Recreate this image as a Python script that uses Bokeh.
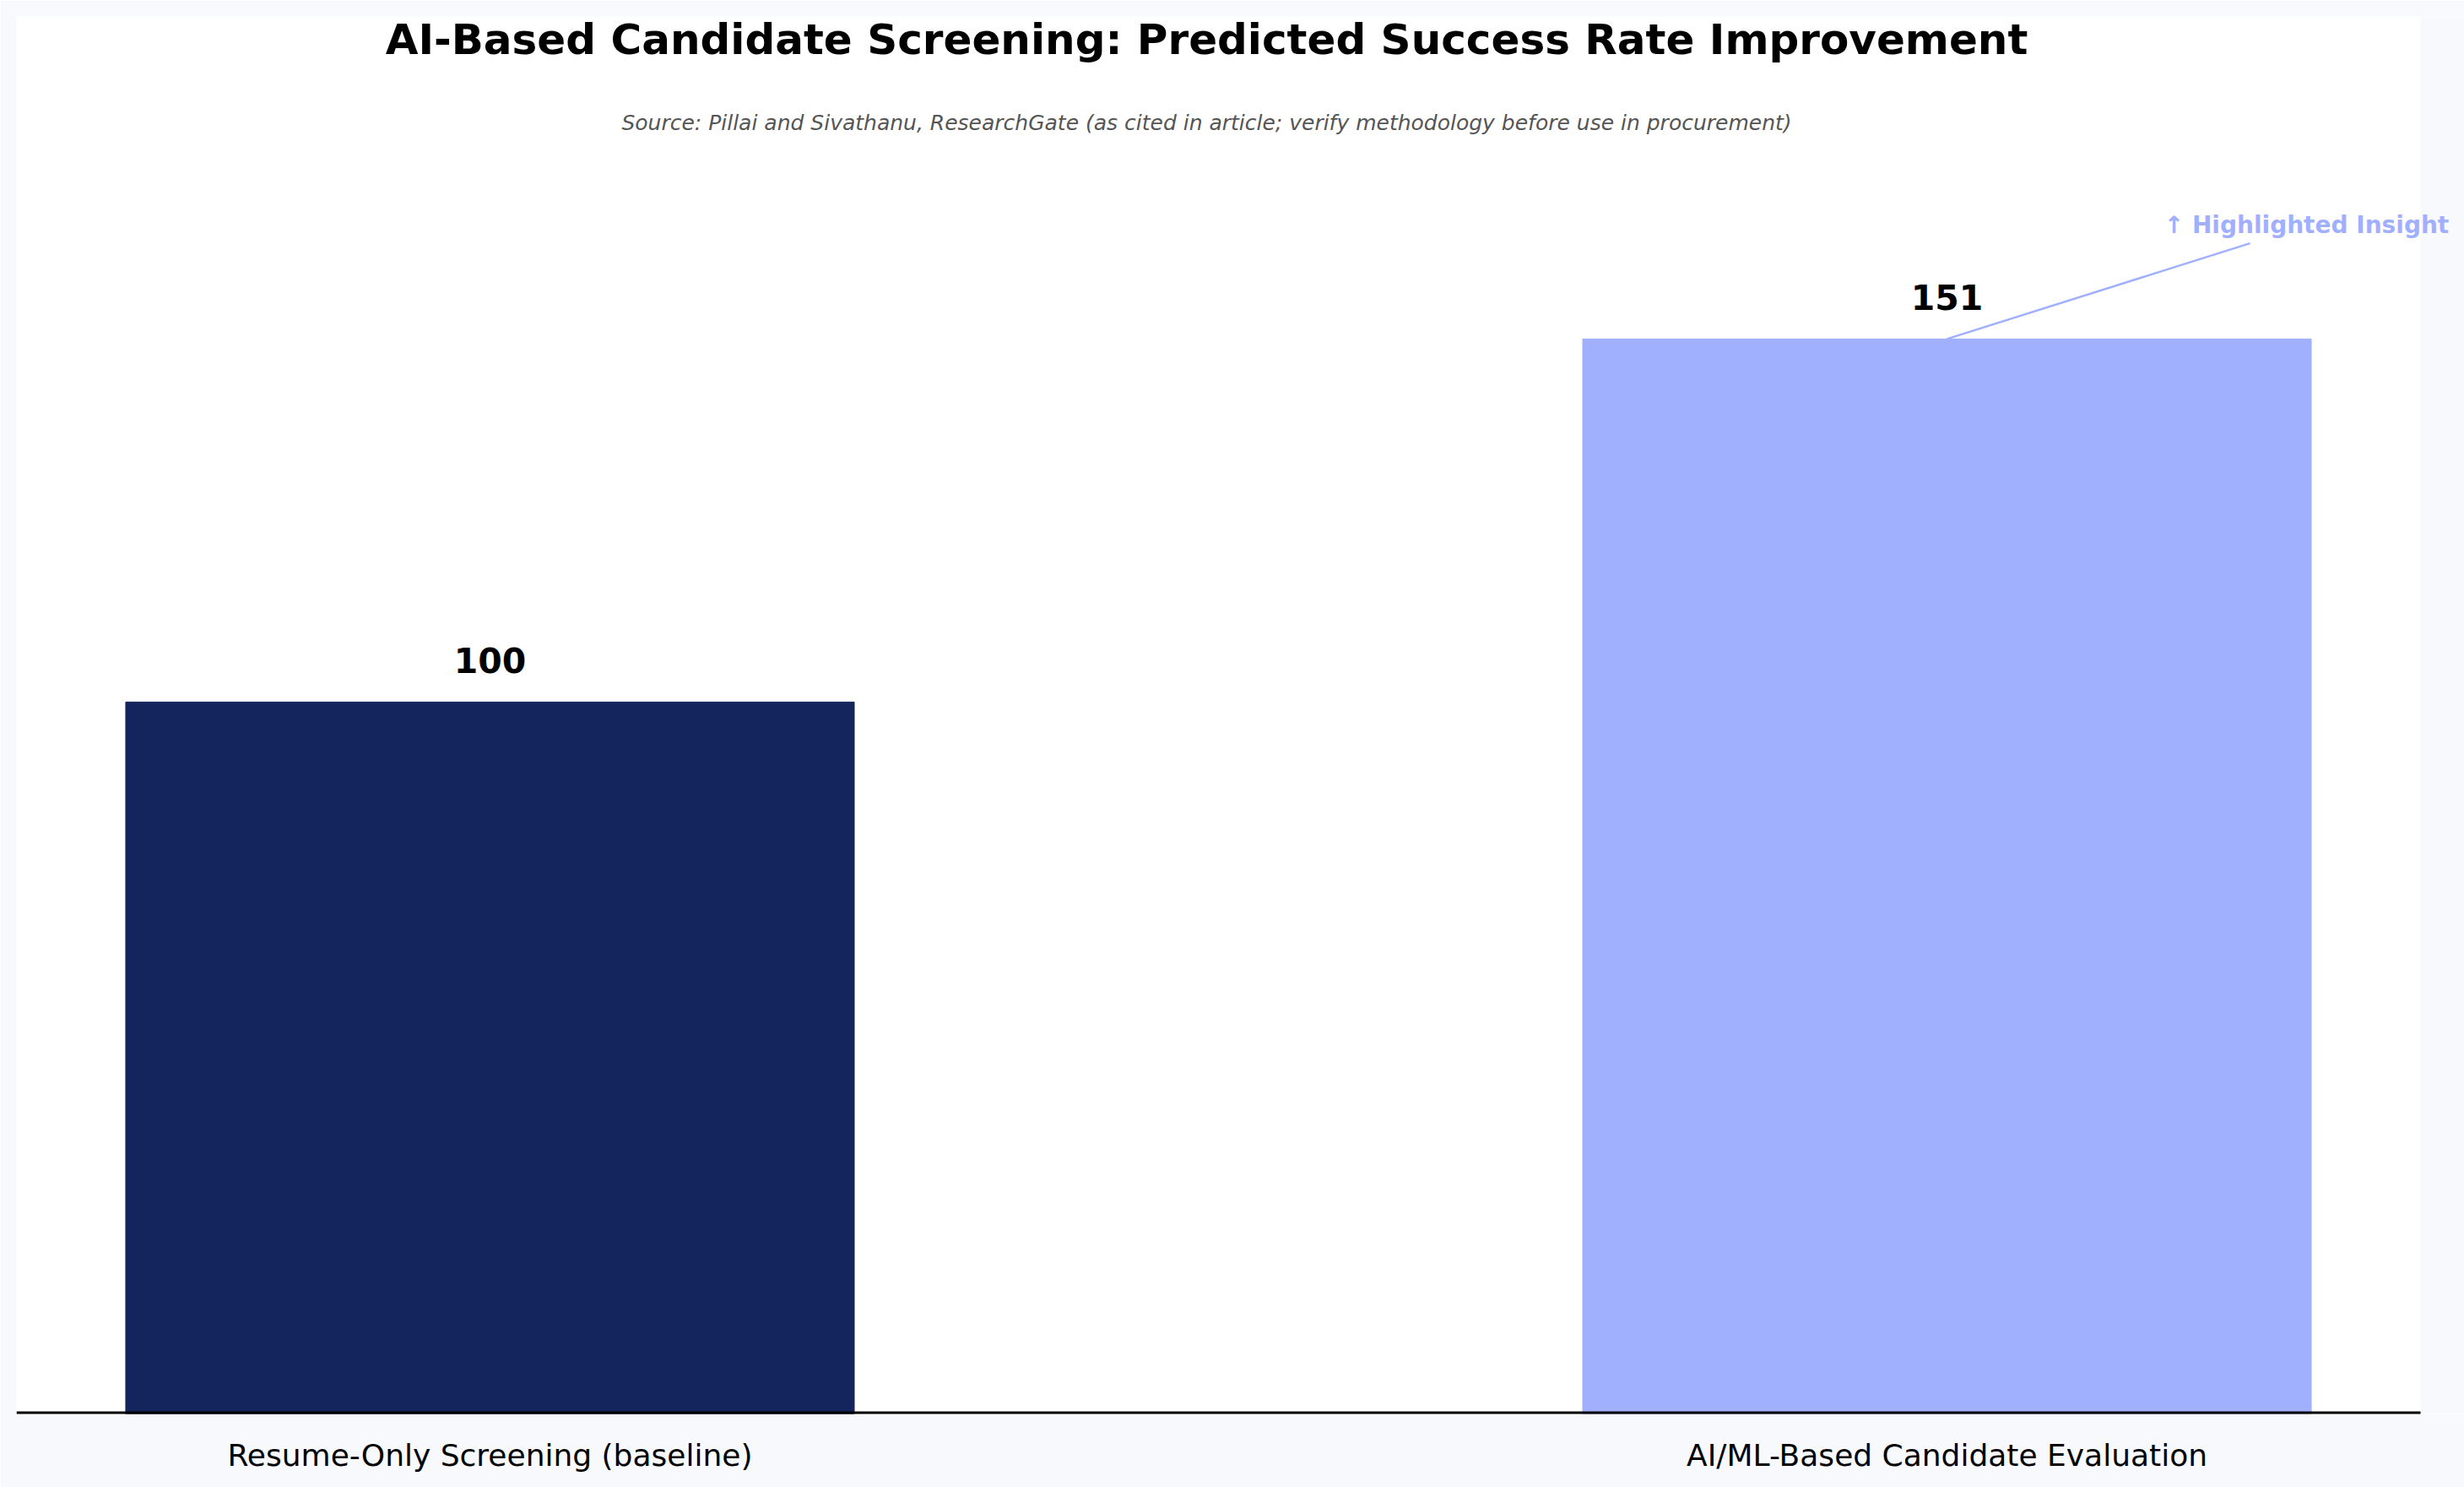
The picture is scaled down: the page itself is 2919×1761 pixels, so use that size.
from bokeh.plotting import figure
from bokeh.models import Range1d, FixedTicker, Label, LabelSet, ColumnDataSource, BoxAnnotation
from bokeh.core.properties import value
from bokeh.embed import file_html
from bokeh.resources import INLINE

categories = ["Resume-Only Screening (baseline)", "AI/ML-Based Candidate Evaluation"]
values = [100, 151]
bar_colors = ["#14245c", "#a0b0fe"]
value_labels = ["100", "151"]
title_text = "AI-Based Candidate Screening: Predicted Success Rate Improvement"
subtitle_text = "Source: Pillai and Sivathanu, ResearchGate (as cited in article; verify methodology before use in procurement)"
highlight_text = "\u2191 Highlighted Insight"
highlight_index = 1

FONT = "DejaVu Sans"
BG = "#f8f9fc"
xs = list(range(len(categories)))
y_max = max(values) * 1.3
x_lo = -0.325
x_hi = len(categories) - 1 + 0.325
# frame extended beyond the white area so the annotation text is not clipped
x_ext = x_hi + 52 / (2848 / (x_hi - x_lo))

src = ColumnDataSource(dict(x=xs, top=values, color=bar_colors, label=value_labels))

p = figure(width=2919, height=1761, output_backend="svg", toolbar_location=None,
           x_range=Range1d(x_lo, x_ext),
           y_range=Range1d(0, y_max), y_axis_location=None,
           min_border_left=19, min_border_right=0, min_border_top=19, min_border_bottom=87)
p.border_fill_color = BG
p.background_fill_color = "white"
p.outline_line_color = None
p.grid.visible = False

# light strip on the right (outside the white axes area)
p.add_layout(BoxAnnotation(left=x_hi, fill_color=BG, fill_alpha=1, line_color=None, level="underlay"))

p.vbar(x="x", top="top", bottom=0, width=0.5, color="color", source=src)

# baseline (axis line) limited to the white area
p.segment(x0=[x_lo], y0=[0], x1=[x_hi], y1=[0], line_color="black", line_width=6)

labels = LabelSet(x="x", y="top", text="label", source=src, text_align="center",
                  text_baseline="alphabetic", y_offset=34, text_font=value(FONT),
                  text_font_size="41px", text_font_style="bold", text_color="black")
p.add_layout(labels)

# annotation leader line and text
hx = xs[highlight_index]
hy = values[highlight_index]
p.segment(x0=[hx], y0=[hy], x1=[hx + 0.208], y1=[hy * 1.089], line_color="#a0b0fe", line_width=2.5)
p.add_layout(Label(x=hx + 0.149, y=hy * 1.099, y_offset=9, text=highlight_text, text_font=FONT,
                   text_font_size="28px", text_font_style="bold", text_color="#a0b0fe",
                   text_baseline="alphabetic", text_align="left"))

# title and subtitle inside the white area
xc = (xs[0] + xs[-1]) / 2
p.add_layout(Label(x=xc, y=y_max, y_offset=-27, x_offset=-14, text=title_text,
                   text_font=FONT, text_font_size="50px", text_font_style="bold",
                   text_color="black", text_align="center", text_baseline="alphabetic"))
p.add_layout(Label(x=xc, y=y_max, y_offset=-126, x_offset=-14, text=subtitle_text,
                   text_font=FONT, text_font_size="25px", text_font_style="italic",
                   text_color="#555555", text_align="center", text_baseline="alphabetic"))

ax = p.xaxis[0]
ax.ticker = FixedTicker(ticks=xs)
ax.major_label_overrides = {x: c for x, c in zip(xs, categories)}
ax.axis_line_color = None
ax.major_tick_line_color = None
ax.minor_tick_line_color = None
ax.major_label_standoff = 22
ax.major_label_text_font = FONT
ax.major_label_text_font_size = "36px"
ax.major_label_text_color = "black"

open("out.html", "w").write(file_html(p, INLINE))
